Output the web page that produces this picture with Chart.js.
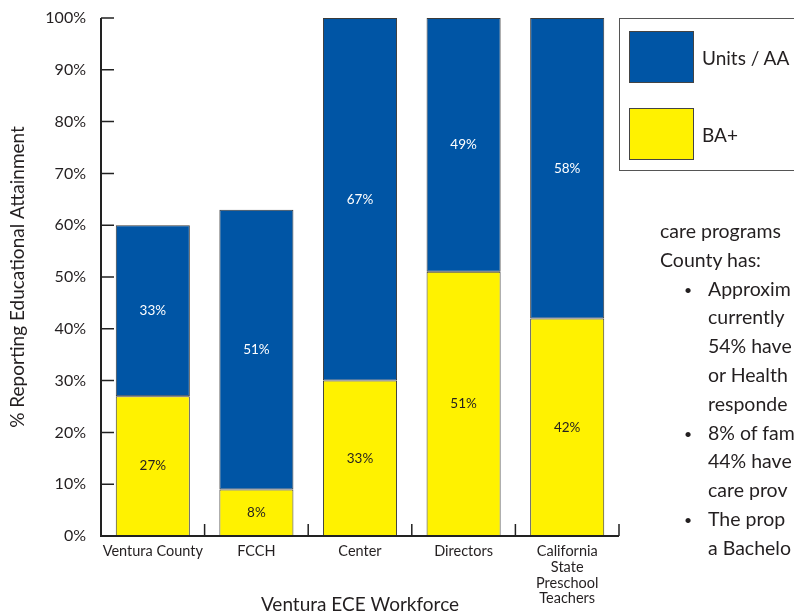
<!DOCTYPE html>
<html>
<head>
<meta charset="utf-8">
<script src="https://cdn.jsdelivr.net/npm/chart.js@4/dist/chart.umd.min.js"></script>
<style>
  body { margin: 0; background: #fff; width: 794px; height: 613px; overflow: hidden; position: relative; font-family: Lato, "DejaVu Sans", sans-serif; color: #231f20; }
  #chart { position: absolute; left: 0; top: 0; }
  #legendBox { position: absolute; left: 619px; top: 18px; width: 220px; height: 151px; border: 1px solid #555; }
  .sw { position: absolute; left: 9px; width: 63px; height: 50px; border: 1px solid #444; }
  .lt { position: absolute; left: 82px; font-size: 19px; line-height: 20px; }
  #body { position: absolute; left: 660px; top: 217px; font-size: 19.5px; line-height: 28.8px; white-space: nowrap; }
  #body .ind { padding-left: 48px; }
  #body .bul { position: relative; padding-left: 48px; }
  #body .bul:before { content: "\2022"; position: absolute; left: 24px; font-size: 14px; top: 1px; }
</style>
</head>
<body>
<canvas id="chart" width="794" height="613"></canvas>

<div id="legendBox"></div>
<div id="body"></div>

<script>
// categories and values
const categories = ['Ventura County', 'FCCH', 'Center', 'Directors', ['California', 'State', 'Preschool', 'Teachers']];
const baPlus = [27, 9, 30, 51, 42];      // yellow, bottom segment (drawn height)
const unitsAA = [33, 54, 70, 49, 58];    // blue, top segment (drawn height)
const baLabels = ['27%', '8%', '33%', '51%', '42%'];
const unitsLabels = ['33%', '51%', '67%', '49%', '58%'];
const yTicks = [0, 10, 20, 30, 40, 50, 60, 70, 80, 90, 100];

const seriesNames = ['Units / AA', 'BA+'];
const blue = '#0055a5';
const yellow = '#fff200';
const ink = '#231f20';

const bodyLines = [
    ['', 'care programs'],
    ['', 'County has:'],
    ['bul', 'Approxim'],
    ['ind', 'currently'],
    ['ind', '54% have'],
    ['ind', 'or Health'],
    ['ind', 'responde'],
    ['bul', '8% of fam'],
    ['ind', '44% have'],
    ['ind', 'care prov'],
    ['bul', 'The prop'],
    ['ind', 'a Bachelo']
];

// legend box (html)
const legendBox = document.querySelector('#legendBox');
[[blue, 12, seriesNames[0], 29], [yellow, 89, seriesNames[1], 106]].forEach(item => {
    legendBox.innerHTML += `<div class="sw" style="top:${item[1]}px;background:${item[0]}"></div>
        <div class="lt" style="top:${item[3]}px">${item[2]}</div>`;
});

// body text on the right
const bodyDiv = document.querySelector('#body');
bodyLines.forEach(l => {
    bodyDiv.innerHTML += `<div class="${l[0]}">${l[1]}</div>`;
});

// axis lines with inward ticks
const axisPlugin = {
    id: 'axisPlugin',
    afterDatasetsDraw(chart) {
        const ctx = chart.ctx;
        const area = chart.chartArea;
        const y = chart.scales.y;
        const x = chart.scales.x;
        ctx.save();
        ctx.strokeStyle = '#222';
        ctx.lineWidth = 2;
        ctx.beginPath();
        ctx.moveTo(area.left, area.top);
        ctx.lineTo(area.left, area.bottom);
        ctx.lineTo(area.right, area.bottom);
        ctx.stroke();
        ctx.lineWidth = 1.5;
        ctx.beginPath();
        yTicks.forEach(v => {
            const py = y.getPixelForValue(v);
            ctx.moveTo(area.left, py);
            ctx.lineTo(area.left + 13, py);
        });
        for (let i = 1; i <= categories.length; i++) {
            let px;
            if (i === categories.length) px = area.right;
            else px = (x.getPixelForValue(i - 1) + x.getPixelForValue(i)) / 2;
            ctx.moveTo(px, area.bottom);
            ctx.lineTo(px, area.bottom - 12);
        }
        ctx.stroke();
        ctx.restore();
    }
};

// percentage labels inside the segments
const labelPlugin = {
    id: 'labelPlugin',
    afterDatasetsDraw(chart) {
        const ctx = chart.ctx;
        ctx.save();
        ctx.font = '13.5px Lato';
        ctx.textAlign = 'center';
        ctx.textBaseline = 'middle';
        chart.data.datasets.forEach((ds, di) => {
            const meta = chart.getDatasetMeta(di);
            meta.data.forEach((bar, i) => {
                ctx.fillStyle = ds.labelColor;
                ctx.fillText(ds.texts[i], bar.x, (bar.y + bar.base) / 2);
            });
        });
        ctx.restore();
    }
};

const mychart = document.getElementById('chart').getContext('2d');
const chart = new Chart(mychart, {
    type: 'bar',
    data: {
        labels: categories,
        datasets: [
            {
                label: seriesNames[1],
                data: baPlus,
                texts: baLabels,
                labelColor: ink,
                backgroundColor: yellow,
                borderColor: '#3a3a3a',
                borderWidth: 1,
                borderSkipped: false
            },
            {
                label: seriesNames[0],
                data: unitsAA,
                texts: unitsLabels,
                labelColor: '#ffffff',
                backgroundColor: blue,
                borderColor: '#3a3a3a',
                borderWidth: 1,
                borderSkipped: false
            }
        ]
    },
    options: {
        responsive: false,
        animation: false,
        devicePixelRatio: 1,
        layout: { padding: { top: 18, right: 175, left: 0, bottom: 0 } },
        datasets: { bar: { categoryPercentage: 1, barPercentage: 0.715 } },
        plugins: { legend: { display: false }, tooltip: { enabled: false } },
        scales: {
            x: {
                stacked: true,
                grid: { display: false, drawTicks: false },
                border: { display: false },
                ticks: { font: { family: 'Lato', size: 14.5, lineHeight: 1.1 }, color: ink, padding: 7, maxRotation: 0, autoSkip: false },
                title: { display: true, text: 'Ventura ECE Workforce', font: { family: 'Lato', size: 19, lineHeight: 1 }, color: ink, padding: { top: 0, bottom: -1 } },
                afterFit: s => { s.height = 77; }
            },
            y: {
                stacked: true,
                min: 0,
                max: 100,
                grid: { display: false, drawTicks: false },
                border: { display: false },
                ticks: { stepSize: 10, font: { family: 'Lato', size: 16 }, color: ink, padding: 15, callback: v => v + '%' },
                title: { display: true, text: '% Reporting Educational Attainment', font: { family: 'Lato', size: 19, lineHeight: 1 }, color: ink, padding: { top: 8, bottom: 0 } },
                afterFit: s => { s.width = 101; s.paddingTop = 0; s.paddingBottom = 0; }
            }
        }
    },
    plugins: [axisPlugin, labelPlugin]
});
</script>
</body>
</html>
